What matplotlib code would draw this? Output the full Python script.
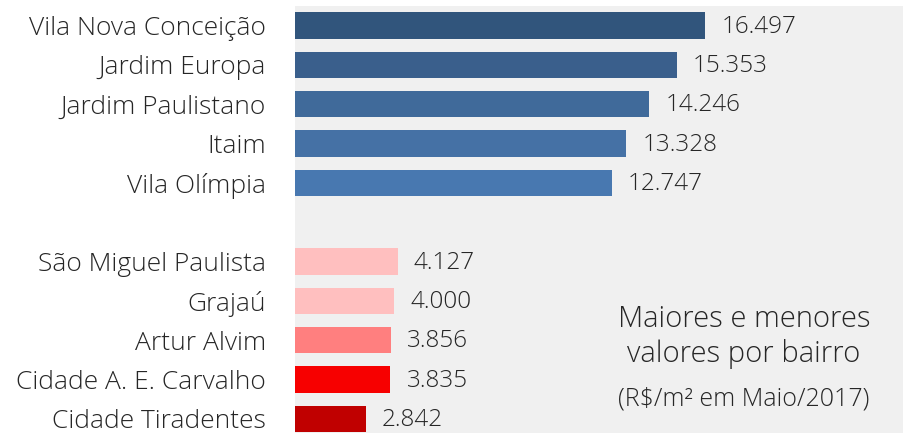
import matplotlib
matplotlib.use("Agg")
import matplotlib.pyplot as plt

bairros = ["Vila Nova Conceição", "Jardim Europa", "Jardim Paulistano", "Itaim", "Vila Olímpia",
           "São Miguel Paulista", "Grajaú", "Artur Alvim", "Cidade A. E. Carvalho", "Cidade Tiradentes"]
valores = [16497, 15353, 14246, 13328, 12747, 4127, 4000, 3856, 3835, 2842]
rotulos = ["16.497", "15.353", "14.246", "13.328", "12.747", "4.127", "4.000", "3.856", "3.835", "2.842"]
cores = ["#31557C", "#3A5F8C", "#406A9A", "#4571A5", "#4878B0",
         "#FFBFBF", "#FFBFBF", "#FF7F7F", "#F70000", "#C00000"]

plt.rcParams['font.family'] = ['Open Sans', 'DejaVu Sans']
plt.rcParams['font.weight'] = 'light'
txt = "#262626"

fig = plt.figure(figsize=(9.04, 4.33), dpi=100)
ax = fig.add_axes([295/904, 0, 609/904, 427/433])
ax.set_facecolor("#F0F0F0")

pos = [0, 1, 2, 3, 4, 6, 7, 8, 9, 10]
ax.barh(pos, valores, height=0.67, color=cores)
for p, v, r in zip(pos, valores, rotulos):
    ax.text(v + 650, p + 0.03, r, va="center", ha="left", fontsize=17.5, color=txt, fontweight="light")

ax.set_yticks(pos)
ax.set_yticklabels(bairros, fontsize=19, color=txt, fontweight="light")
ax.tick_params(axis="y", length=0, pad=21)
ax.set_xticks([])
ax.set_xlim(0, 24500)
ax.set_ylim(10.36, -0.5)
for s in ax.spines.values():
    s.set_visible(False)

ax.text(0.737, 0.225, "Maiores e menores\nvalores por bairro", transform=ax.transAxes,
        ha="center", va="center", fontsize=21, color=txt, linespacing=1.2, fontweight="light")
ax.text(0.737, 0.08, "(R$/m² em Maio/2017)", transform=ax.transAxes,
        ha="center", va="center", fontsize=18, color=txt, fontweight="light")

fig.savefig("out.png", dpi=100)
